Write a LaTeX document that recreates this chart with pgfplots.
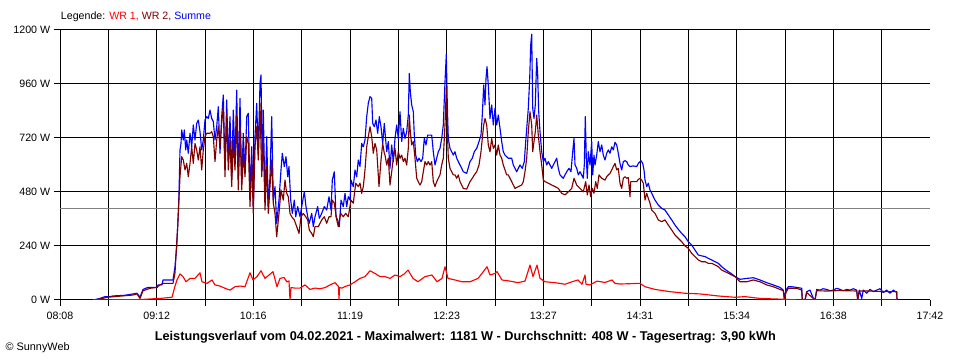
\documentclass[border=0pt]{standalone}
\usepackage{graphicx}
\usepackage{pgfplots}
\pgfplotsset{compat=1.18}
\usepackage{fontspec}
\setmainfont{Liberation Sans}
\definecolor{wrone}{RGB}{255,0,0}
\definecolor{wrtwo}{RGB}{128,0,0}
\definecolor{summe}{RGB}{0,0,255}
\definecolor{avg}{RGB}{128,128,128}
\begin{document}
\fontsize{8}{9.6}\selectfont
\begin{tikzpicture}
\path[use as bounding box] (0,0) rectangle (720pt,270pt);
\begin{axis}[
  at={(45pt,45pt)}, anchor=south west,
  scale only axis, width=652.5pt, height=202.5pt,
  xmin=0, xmax=870, ymin=0, ymax=1200,
  axis lines*=left,
  axis line style={black, line width=0.75pt},
  tick align=outside,
  major tick length=4.5pt,
  tick style={black, line width=0.75pt},
  xtick={0,48.333,96.667,145,193.333,241.667,290,338.333,386.667,435,483.333,531.667,580,628.333,676.667,725,773.333,821.667},
  xticklabels={08:08,,09:12,,10:16,,11:19,,12:23,,13:27,,14:31,,15:34,,16:38,},
  extra x ticks={870},
  extra x tick labels={17:42},
  extra x tick style={grid=none},
  ytick={0,240,480,720,960,1200},
  yticklabels={0 W,240 W,480 W,720 W,960 W,1200 W},
  grid=major,
  major grid style={black, line width=0.75pt},
  ticklabel style={font=\fontsize{8}{9.6}\selectfont},
  xticklabel style={yshift=-2pt},
]
\addplot[avg, line width=0.75pt, mark=none] coordinates {(0,408) (870,408)};
\addplot[summe, line width=0.85pt, line join=round, mark=none] coordinates {
(33.3,0) (40,7) (45,15) (50,15) (53,18) (65,21) (77,30) (80,12) (83,47) (88,56) (97,56) (98,67) (102,67) (103,89) (113,89) (115,147) (116.7,237) (118.3,386) (119,474) (120,667) (121,696) (121.7,756) (123.3,711) (124.3,756) (125.7,667) (126.7,711) (128.3,652) (130,741) (131.7,681) (133.3,778) (135,711) (136.7,785) (138.3,800) (140,748) (141.7,667) (143.3,711) (145,800) (146.7,815) (148.3,807) (150,844) (151.7,807) (153.3,793) (155,711) (156.7,770) (158.3,859) (160,652) (161.7,815) (163.3,911) (165,578) (166.7,889) (168.3,622) (170,815) (171.7,548) (173.3,844) (175,622) (176.7,933) (178.3,533) (180,896) (181.7,519) (183.3,741) (185,563) (186.7,815) (188.3,830) (190,474) (191.7,681) (193.3,415) (195,726) (196.7,874) (198.3,652) (200,963) (201,1000) (202.3,578) (203.3,844) (205,444) (206.7,726) (208.3,415) (210,548) (211.7,815) (213.3,444) (215,504) (216.7,341) (219,444) (221,578) (222.3,652) (224.3,593) (226,637) (227.7,548) (229,593) (230.7,444) (232.3,385) (234.3,444) (235.7,370) (237.7,415) (240,370) (242.3,430) (244.3,481) (246,415) (247.7,370) (249.3,341) (251.7,385) (253.3,326) (255,370) (257.7,415) (259.3,363) (261.7,385) (264.3,415) (266.7,400) (269,459) (271,400) (272.3,533) (274.3,570) (276,370) (277.7,356) (279.3,326) (281,444) (283.3,415) (285,474) (286.7,415) (288.3,459) (290,444) (291,533) (293.3,504) (295,578) (296.7,548) (298.3,622) (300,593) (301.7,696) (303.3,681) (305,711) (306.7,815) (308.3,874) (310,904) (311.7,896) (312.7,785) (314.3,770) (316,800) (317.7,741) (319.3,815) (321,770) (322.7,696) (324.3,785) (325,748) (326.7,659) (328.3,704) (330,585) (331.7,689) (333.3,615) (335,718) (336.7,778) (338.3,718) (340,837) (341.7,704) (343.3,763) (345,718) (346.7,748) (348.3,822) (349.3,1007) (350.3,926) (351.7,867) (353.3,837) (354.3,733) (355.7,644) (357.3,615) (359,630) (361,615) (362.7,630) (364.3,718) (366,689) (367.7,733) (370,733) (371.7,733) (373.3,659) (375,600) (376.7,630) (378.3,659) (380,674) (381.7,718) (383.3,778) (385,970) (386.3,1092) (387.3,867) (388.3,718) (390,674) (391.7,659) (393.3,644) (395,659) (396.7,630) (398.3,615) (400,600) (401.7,585) (403.3,570) (406.7,563) (410,615) (412.3,630) (414.3,659) (416.7,674) (419,704) (421,733) (422.3,822) (423.7,956) (425,867) (426,985) (427,1037) (428.3,956) (430,807) (431.7,867) (433.3,778) (435,852) (436.7,778) (438.3,822) (440,763) (441.7,704) (443.3,659) (445,644) (448.3,630) (451.7,630) (453.3,600) (455,585) (456.7,570) (458.3,585) (460,600) (462.3,585) (464.3,615) (465.7,704) (467,778) (468.3,852) (469.7,985) (470.7,1133) (471.7,1181) (472.7,852) (474,807) (475.3,867) (476.7,1074) (477.7,1000) (478.7,837) (480,748) (481.7,659) (483.3,615) (485,630) (486.7,600) (488.3,615) (490,600) (491.7,585) (493.3,600) (495,615) (496.7,630) (498.3,585) (500,556) (501.7,548) (503.3,541) (505,556) (506.7,570) (509,585) (511,570) (512.7,659) (514,718) (515,600) (516.7,585) (518.3,556) (520,570) (521.7,556) (523.3,541) (524.3,600) (525.3,815) (526.3,630) (527.3,541) (528.3,659) (530,600) (531.7,704) (532.7,556) (534,644) (535,600) (536.7,644) (538.3,704) (540,659) (541.7,689) (543.3,644) (545,622) (546.7,652) (548.3,667) (550,652) (551.7,681) (553.3,667) (555,701) (556.7,689) (558.3,652) (560,607) (561.7,578) (563.3,615) (565,619) (566.7,615) (568.3,600) (570,593) (573.3,596) (576.7,593) (578.3,607) (581,619) (582.7,607) (584,578) (585,533) (586.7,504) (588.3,519) (590,489) (591.7,474) (595,444) (598.3,422) (601.7,407) (605,400) (608.3,378) (611.7,356) (615,333) (618.3,314) (621.7,296) (625,281) (628.3,259) (631.7,244) (635,222) (638.3,200) (641.7,196) (645,193) (648.3,185) (651.7,178) (655,170) (658.3,163) (661.7,148) (665,136) (668.3,126) (671.7,116) (675,104) (680,92) (686.7,96) (693.3,99) (700,89) (706.7,77) (713.3,67) (720,56) (723.3,44) (724.3,7) (726,44) (728.3,59) (731.7,59) (736.7,56) (741.7,52) (742.3,0) (745,0) (746.7,37) (750,44) (753.3,7) (755,0) (756.7,47) (760,44) (763,50) (766.7,47) (770,41) (773.3,44) (776.7,52) (780,47) (783.3,41) (786.7,47) (790,44) (793.3,50) (796.7,44) (797.7,0) (799.3,44) (801.7,7) (803.3,44) (806.7,30) (810,47) (813.3,37) (816.7,44) (820,50) (823.3,33) (826.7,44) (830,30) (833.3,44) (836.7,33) (837,0)
};
\addplot[wrtwo, line width=0.85pt, line join=round, mark=none] coordinates {
(33,0) (40,4) (47,12) (57,16) (73,22) (77,27) (80,7) (83,41) (90,52) (97,56) (100,67) (103,74) (113,74) (115,120) (115.7,178) (117.7,326) (120,548) (121.7,637) (123.3,622) (125,578) (126.7,607) (128.3,548) (130,607) (131.7,681) (133.3,607) (135,696) (136.7,667) (138.3,622) (140,681) (141.7,578) (143.3,667) (145,726) (146.7,741) (150,741) (151.7,748) (153.3,726) (155,615) (156.7,711) (158.3,770) (160,681) (161.7,785) (163.3,859) (165,548) (166.7,830) (168.3,578) (170,711) (171.7,504) (173.3,711) (175,578) (176.7,822) (178.3,489) (180,770) (181.7,489) (183.3,652) (185,548) (186.7,726) (188.3,696) (190,415) (191.7,622) (193.3,385) (195,681) (196.7,770) (198.3,622) (200,874) (201.7,548) (203.3,711) (205,400) (206.7,593) (208.3,385) (210,504) (211.7,622) (213.3,430) (215,385) (216.7,281) (219,385) (221,489) (223.3,444) (225,533) (226.7,474) (228.3,459) (230,385) (231.7,370) (234.3,356) (236.7,326) (239,296) (241,370) (243.3,385) (245.7,370) (247.7,356) (249.3,311) (251.7,296) (253.3,281) (255,326) (258.3,326) (261.7,356) (264.3,370) (266.7,341) (269,370) (271,370) (272.3,444) (274.3,430) (276.7,356) (278.3,326) (280.7,385) (283.3,370) (285.7,385) (288.3,370) (291,444) (293.3,430) (295.7,519) (298.3,504) (300,519) (301.7,474) (303.3,504) (305,578) (306.7,681) (308.3,726) (310,770) (311.7,726) (313.3,652) (315,696) (316.7,667) (319,504) (321,622) (322.7,696) (324.3,652) (325,644) (326.7,600) (328.3,630) (330,511) (331.7,570) (333.3,630) (335,674) (336.7,600) (338.3,659) (340,630) (341.7,644) (343.3,615) (345,630) (346.7,600) (348.3,674) (349.3,822) (350.3,748) (351.7,689) (353.3,704) (355,630) (356.7,541) (358.3,526) (360,511) (361.7,526) (363.3,570) (365,615) (366.7,600) (368.3,615) (370,600) (371.7,615) (373.3,526) (375,504) (376.7,526) (378.3,541) (380,556) (381.7,600) (383.3,630) (385,778) (386.3,941) (387.3,763) (388.3,630) (390,585) (391.7,570) (393.3,556) (395,556) (396.7,541) (398.3,556) (400,526) (401.7,511) (403.3,496) (406.7,493) (410,526) (412.3,541) (414.3,556) (416.7,570) (419,600) (421,659) (422.3,718) (423.7,778) (425,807) (426.7,778) (428.3,689) (430,659) (431.7,718) (433.3,674) (435,689) (436.7,644) (438.3,689) (440,644) (441.7,630) (443.3,600) (446.7,556) (448.3,556) (451.7,526) (453.3,511) (455,496) (458.3,504) (461.7,511) (463.3,526) (465,570) (466.7,630) (468.3,748) (470,837) (471.7,778) (472.7,659) (474,704) (475.3,748) (476.7,822) (478.3,733) (480,659) (481.7,600) (483.3,533) (485,526) (488.3,519) (491.7,511) (495,504) (498.3,496) (501.7,474) (505,467) (508.3,481) (511.7,496) (514,541) (516.7,511) (520,496) (523.3,481) (525.7,526) (527.3,467) (529,511) (530.7,459) (532.3,496) (534,474) (535.7,526) (537.3,496) (539,556) (541.7,541) (545,533) (546.7,548) (548.3,556) (550,563) (551.7,578) (553.3,593) (555,607) (556.7,578) (558.3,585) (560,519) (561.7,496) (563.3,541) (565,548) (566.7,541) (568.3,544) (570,459) (570.7,526) (573.3,526) (576.7,526) (578.3,536) (580,541) (581.7,533) (583.3,519) (585,444) (586.7,474) (588.3,452) (590,430) (591.7,400) (595,385) (598.3,356) (601.7,348) (605,356) (608.3,333) (611.7,311) (615,289) (618.3,274) (621.7,259) (625,240) (628.3,230) (631.7,207) (635,193) (638.3,178) (641.7,170) (645,170) (648.3,163) (651.7,163) (655,156) (658.3,148) (661.7,133) (665,126) (668.3,119) (671.7,111) (675,104) (680,81) (686.7,81) (693.3,89) (700,81) (706.7,67) (713.3,59) (720,47) (723.3,41) (724.3,4) (726,33) (728.3,52) (736.7,52) (741.7,44) (742.3,0) (745,0) (746.7,33) (753.3,7) (755,0) (756.7,41) (766.7,40) (780,42) (796.7,40) (797.7,0) (799.3,40) (810,40) (820,38) (836.7,37) (837,0)
};
\addplot[wrone, line width=0.85pt, line join=round, mark=none] coordinates {
(33,0) (80,2) (100,7) (112,12) (115,62) (117,89) (120,116) (123,104) (126,81) (130,96) (135,96) (140,121) (142,81) (147,74) (152,89) (155,67) (160,62) (165,52) (170,44) (175,59) (180,62) (185,59) (190,121) (193,89) (197,104) (201,130) (205,96) (209,111) (213,126) (217,59) (220,96) (224,100) (227,80) (229,85) (230,0) (231,55) (235,53) (240,53) (245,67) (250,47) (255,53) (260,50) (265,55) (270,67) (275,77) (278.5,60) (279,0) (279.5,55) (282,53) (285,60) (290,67) (295,81) (300,96) (305,104) (310,130) (315,118) (320,104) (325,104) (330,96) (335,111) (340,104) (344,115) (348,133) (353,96) (358,81) (365,104) (372,111) (377,81) (382,96) (385,148) (388,96) (395,89) (402,81) (410,81) (418,96) (422,118) (427,148) (430,111) (435,118) (437,126) (442,89) (450,84) (458,77) (465,84) (470,155) (473,104) (477,155) (480,96) (485,81) (495,77) (505,70) (512,81) (518,89) (522,70) (525,111) (526,70) (530,67) (537,84) (545,78) (552,89) (555,74) (560,71) (580,74) (585,59) (595,47) (610,37) (625,30) (640,27) (658,18) (675,12) (685,15) (700,7) (725,3) (740,0) (837,0)
};
\end{axis}
\node[anchor=west, inner sep=0pt] at (45.5pt,257.25pt) {\resizebox{112.5pt}{!}{Legende: \textcolor{wrone}{WR 1,} \textcolor{wrtwo}{WR 2,} \textcolor{summe}{Summe}}};
\node[inner sep=0pt] at (349pt,17.25pt) {\resizebox{465.75pt}{!}{\bfseries Leistungsverlauf vom 04.02.2021 - Maximalwert: 1181 W - Durchschnitt: 408 W - Tagesertrag: 3,90 kWh}};
\node[anchor=west, inner sep=0pt] at (4pt,9pt) {\resizebox{48pt}{!}{\textcopyright{} SunnyWeb}};
\end{tikzpicture}
\end{document}
